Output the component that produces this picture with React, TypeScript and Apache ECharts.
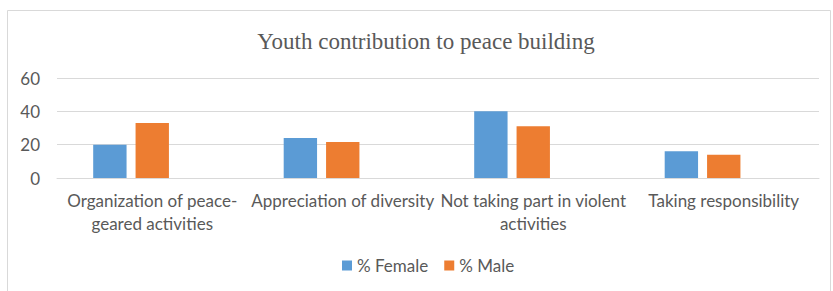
import React, { useEffect, useRef } from "react";
import * as echarts from "echarts";

const categories = [
  "Organization of peace-\ngeared activities",
  "Appreciation of diversity",
  "Not taking part in violent\nactivities",
  "Taking responsibility",
];
const femaleValues = [20, 24, 40, 16];
const maleValues = [33, 21.6, 31, 14];
const emptyValues: (number | null)[] = [null, null, null, null];
const yTicks = { min: 0, max: 60, interval: 20 };

export default function App() {
  const ref = useRef<HTMLDivElement>(null);
  useEffect(() => {
    if (!ref.current) return;
    const chart = echarts.init(ref.current, undefined, { renderer: "svg" });
    const labelFont = "Lato, 'Open Sans', sans-serif";
    chart.setOption({
      animation: false,
      backgroundColor: "#ffffff",
      title: {
        text: "Youth contribution to peace building",
        left: 421,
        textAlign: "center",
        top: 25,
        textStyle: {
          fontFamily: "'Liberation Serif', 'DejaVu Serif', serif",
          fontSize: 23,
          fontWeight: "normal",
          color: "#595959",
        },
      },
      graphic: [
        {
          type: "rect",
          shape: { x: 7.5, y: 10.5, width: 823, height: 300 },
          style: { fill: "none", stroke: "#d9d9d9", lineWidth: 1 },
          silent: true,
        },
      ],
      legend: {
        data: ["% Female", "% Male"],
        bottom: 12,
        left: 337,
        itemWidth: 10,
        itemHeight: 10,
        itemGap: 16,
        icon: "rect",
        textStyle: { fontFamily: labelFont, fontSize: 17, color: "#595959" },
      },
      grid: { left: 57, right: 14, top: 78, bottom: 113 },
      xAxis: {
        type: "category",
        data: categories,
        axisLine: { lineStyle: { color: "#d9d9d9" } },
        axisTick: { show: false },
        axisLabel: {
          interval: 0,
          margin: 11,
          fontFamily: labelFont,
          fontSize: 17,
          lineHeight: 23,
          color: "#595959",
        },
      },
      yAxis: {
        type: "value",
        min: yTicks.min,
        max: yTicks.max,
        interval: yTicks.interval,
        axisLine: { show: false },
        axisTick: { show: false },
        splitLine: { lineStyle: { color: "#d9d9d9" } },
        axisLabel: {
          margin: 17,
          fontFamily: labelFont,
          fontSize: 17,
          color: "#595959",
        },
      },
      series: [
        {
          name: "% Female",
          type: "bar",
          data: femaleValues,
          itemStyle: { color: "#5b9bd5" },
          barCategoryGap: "38%",
          barGap: "27%",
        },
        {
          name: "% Male",
          type: "bar",
          data: maleValues,
          itemStyle: { color: "#ed7d31" },
        },
        {
          name: "",
          type: "bar",
          data: emptyValues,
          itemStyle: { color: "#a5a5a5" },
        },
      ],
    });
    return () => chart.dispose();
  }, []);
  return (
    <div
      ref={ref}
      style={{ position: "fixed", left: 0, top: 0, width: 833, height: 291 }}
    />
  );
}
